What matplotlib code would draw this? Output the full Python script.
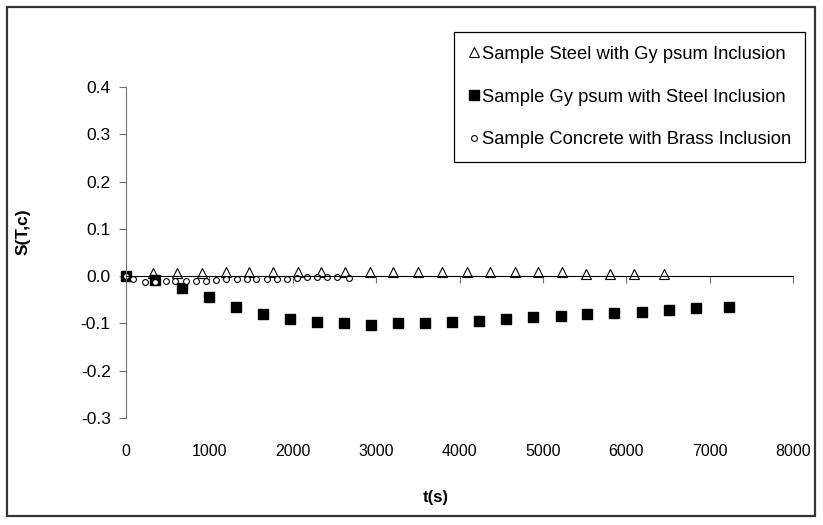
import matplotlib
import numpy
import matplotlib.pyplot as plt
from matplotlib.patches import Rectangle

matplotlib.use("agg")
plt.rcParams["font.family"] = ["Liberation Sans", "DejaVu Sans"]
plt.rcParams["axes.unicode_minus"] = False

# Sample Steel with Gypsum Inclusion
steel_t = [320, 608, 908, 1196, 1479, 1759, 2059, 2335, 2626, 2926, 3205, 3498,
           3793, 4086, 4365, 4664, 4944, 5231, 5520, 5808, 6095, 6453]
steel_s = [0.007, 0.007, 0.007, 0.008, 0.009, 0.009, 0.009, 0.009, 0.009, 0.009, 0.009, 0.009,
           0.009, 0.009, 0.009, 0.009, 0.009, 0.009, 0.004, 0.004, 0.004, 0.004]

# Sample Gypsum with Steel Inclusion
gypsum_t = [0, 348, 668, 999, 1319, 1647, 1966, 2294, 2618, 2934, 3258, 3585,
            3905, 4233, 4556, 4884, 5212, 5531, 5855, 6187, 6511, 6838, 7234]
gypsum_s = [0.000, -0.008, -0.026, -0.045, -0.066, -0.081, -0.091, -0.096, -0.100, -0.104, -0.100, -0.100,
            -0.097, -0.095, -0.091, -0.087, -0.084, -0.081, -0.077, -0.075, -0.072, -0.068, -0.066]

# Sample Concrete with Brass Inclusion
concrete_t = [0, 84, 228, 348, 476, 588, 719, 839, 959, 1079, 1199, 1328,
              1447, 1559, 1688, 1807, 1927, 2047, 2175, 2295, 2415, 2535, 2679]
concrete_s = [0.000, -0.005, -0.013, -0.013, -0.011, -0.011, -0.010, -0.010, -0.010, -0.008, -0.006, -0.005,
              -0.005, -0.005, -0.005, -0.005, -0.005, -0.003, -0.001, -0.001, -0.001, -0.001, -0.003]

y_ticks = numpy.round(numpy.arange(-0.3, 0.41, 0.1), 1)
x_ticks = numpy.arange(0, 8001, 1000)

fig = plt.figure(figsize=(8.23, 5.25), dpi=100)
ax = fig.add_axes([126 / 823, 107 / 525, 667 / 823, 331 / 525])

ax.plot(steel_t, steel_s, linestyle="none", marker="^", markersize=6.5, markerfacecolor="white",
        markeredgecolor="black", markeredgewidth=0.8, clip_on=False,
        label="Sample Steel with Gy psum Inclusion")
ax.plot(gypsum_t, gypsum_s, linestyle="none", marker="s", markersize=6.5, color="black", clip_on=False,
        label="Sample Gy psum with Steel Inclusion")
ax.plot(concrete_t, concrete_s, linestyle="none", marker="o", markersize=4.2, markerfacecolor="white",
        markeredgecolor="black", markeredgewidth=0.8, clip_on=False,
        label="Sample Concrete with Brass Inclusion")

ax.set_xlim(0, 8000)
ax.set_ylim(-0.3, 0.4)
ax.set_yticks(y_ticks)
ax.set_yticklabels([f"{v:.1f}" for v in y_ticks])
ax.set_xticks(x_ticks)

# Eixo x cruza em y=0, rotulos embaixo (estilo Excel)
ax.spines["top"].set_visible(False)
ax.spines["right"].set_visible(False)
ax.spines["bottom"].set_position(("data", 0))
ax.spines["bottom"].set_color("black")
ax.spines["left"].set_color("#707070")
ax.tick_params(axis="x", labelbottom=False, direction="out", length=5, color="#707070")
ax.tick_params(axis="y", direction="out", length=5, color="#707070", pad=6, labelsize=12.5)

sec = ax.secondary_xaxis("bottom")
sec.set_xticks(x_ticks)
sec.spines["bottom"].set_visible(False)
sec.tick_params(length=0, pad=19, labelsize=11.5)

ax.set_xlabel("t(s)", fontweight="bold", fontsize=12)
ax.xaxis.set_label_coords((436 - 126) / 667, -(490 - 418) / 331)
ax.set_ylabel("S(T,c)", fontweight="bold", fontsize=12.5)
ax.yaxis.set_label_coords((31 - 126) / 667, (418 - 232) / 331)

leg = fig.legend(loc="center", bbox_to_anchor=(456 / 823, 361 / 525, 347 / 823, 134 / 525),
                 fontsize=13.2, handlelength=0.6, handletextpad=0.15, labelspacing=1.4,
                 borderpad=0.75, fancybox=False, framealpha=1, edgecolor="black")
leg.get_frame().set_linewidth(0.9)

fig.patches.append(Rectangle((7 / 823, 9 / 525), 808 / 823, 509 / 525, transform=fig.transFigure,
                             fill=False, edgecolor="#333333", linewidth=1.6))

plt.savefig("out.png", dpi=100)
